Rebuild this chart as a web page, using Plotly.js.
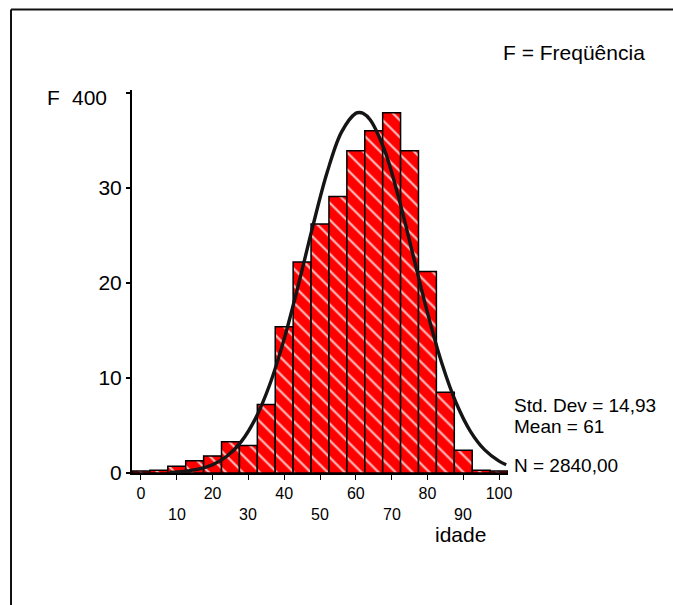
<!DOCTYPE html>
<html>
<head>
<meta charset="utf-8">
<script src="https://cdn.plot.ly/plotly-3.0.1.min.js"></script>
<style>
  html, body { margin: 0; padding: 0; background: #fff; overflow: hidden; }
  #chart { width: 673px; height: 605px; overflow: hidden; }
</style>
</head>
<body>
<div id="chart"></div>
<script>
// Histogram of "idade" (age), bin width 5
const binCenters = [0, 5, 10, 15, 20, 25, 30, 35, 40, 45, 50, 55, 60, 65, 70, 75, 80, 85, 90, 95, 100];
const counts = [2, 3, 7, 13, 18, 33, 29, 72, 154, 222, 262, 291, 339, 360, 379, 339, 212, 85, 24, 3, 2];

// Fitted normal curve
const curveX = [8, 12, 16, 20, 24, 28, 32, 36, 40, 44, 48, 52, 56, 60, 61, 62, 64, 68, 72, 76, 80, 84, 88, 92, 96, 100, 102];
const curveY = [0.7, 1.7, 4.0, 8.7, 17.6, 33.0, 57.5, 93.4, 141.1, 198.4, 259.7, 316.4, 358.7, 378.5, 379.4, 378.5, 371.8, 339.9, 289.2, 229.1, 168.8, 115.8, 73.9, 43.9, 24.3, 12.5, 8.7];

// Axis labels
const xTickVals = [0, 10, 20, 30, 40, 50, 60, 70, 80, 90, 100];
const xTickRow1 = ['0', '', '20', '', '40', '', '60', '', '80', '', '100'];
const xRow2Vals = [10, 30, 50, 70, 90];
const xRow2Text = ['10', '30', '50', '70', '90'];
const yTickVals = [0, 100, 200, 300, 400];
const yTickText = ['0', '10', '20', '30', ''];
const yTopLabel = '400';

const statsText = ['Std. Dev = 14,93', 'Mean = 61', 'N = 2840,00'];
const titleText = 'F = Freqüência';
const xTitle = 'idade';
const yTitle = 'F';

const FONT = 'Liberation Sans, Arial, sans-serif';

const W = 673, H = 605;
const M = {l: 132, r: 165, t: 90, b: 132};
const PW = W - M.l - M.r, PH = H - M.t - M.b;
const px = v => (v - M.l) / PW;          // pixel x -> paper
const py = v => (H - M.b - v) / PH;      // pixel y -> paper

const traces = [
  {
    type: 'bar',
    x: binCenters,
    y: counts,
    width: 5,
    marker: {
      color: '#ff0000',
      line: {color: '#000', width: 1.5},
      pattern: {shape: '\\', size: 12, solidity: 0.18, fgcolor: '#ffffff', fgopacity: 0.75, bgcolor: '#ff0000'}
    },
    hoverinfo: 'x+y'
  },
  {
    type: 'scatter',
    mode: 'lines',
    x: curveX,
    y: curveY,
    line: {color: '#151515', width: 3.4, shape: 'spline'},
    hoverinfo: 'skip'
  }
];

const annotations = [];
xRow2Vals.forEach((v, i) => {
  annotations.push({x: v, xref: 'x', y: py(514.5), yref: 'paper', text: xRow2Text[i],
    showarrow: false, xanchor: 'center', yanchor: 'middle', font: {family: FONT, size: 16, color: '#000'}});
});
annotations.push({x: px(460), xref: 'paper', y: py(534), yref: 'paper', text: xTitle,
  showarrow: false, xanchor: 'center', yanchor: 'middle', font: {family: FONT, size: 21, color: '#000'}});
annotations.push({x: px(109), xref: 'paper', y: 400, yref: 'y', yshift: -5, text: yTopLabel,
  showarrow: false, xanchor: 'right', yanchor: 'middle', font: {family: FONT, size: 21, color: '#000'}});
annotations.push({x: px(45), xref: 'paper', y: 400, yref: 'y', yshift: -5, text: yTitle,
  showarrow: false, xanchor: 'left', yanchor: 'middle', font: {family: FONT, size: 21, color: '#000'}});
const statsY = [405, 426, 465];
statsText.forEach((t, i) => {
  annotations.push({x: px(512), xref: 'paper', y: py(statsY[i]), yref: 'paper', text: t,
    showarrow: false, xanchor: 'left', yanchor: 'middle', font: {family: FONT, size: 19, color: '#000'}});
});

const layout = {
  width: W, height: H,
  margin: M,
  paper_bgcolor: '#fff', plot_bgcolor: '#fff',
  showlegend: false,
  bargap: 0,
  title: {text: titleText, xref: 'container', yref: 'container', x: 503 / W, xanchor: 'left',
    y: 1 - 53 / H, yanchor: 'middle', font: {family: FONT, size: 21, color: '#000'}},
  xaxis: {
    range: [-2.5, 102.5], showgrid: false, zeroline: false,
    showline: true, linecolor: '#000', linewidth: 2,
    tickmode: 'array', tickvals: xTickVals, ticktext: xTickRow1,
    ticks: 'outside', ticklen: 5, tickwidth: 1, tickcolor: '#000',
    tickfont: {family: FONT, size: 16, color: '#000'}
  },
  yaxis: {
    range: [0, 403], showgrid: false, zeroline: false,
    showline: true, linecolor: '#000', linewidth: 2,
    tickmode: 'array', tickvals: yTickVals, ticktext: yTickText,
    ticks: 'outside', ticklen: 4, tickwidth: 1.5, tickcolor: '#000',
    tickfont: {family: FONT, size: 21, color: '#000'}
  },
  annotations: annotations,
  shapes: [
    {type: 'line', xref: 'paper', yref: 'paper', x0: px(11), x1: px(11), y0: py(9.5), y1: py(620),
      line: {color: '#111', width: 2}, layer: 'above'},
    {type: 'line', xref: 'paper', yref: 'paper', x0: px(11), x1: px(690), y0: py(9.5), y1: py(9.5),
      line: {color: '#111', width: 2}, layer: 'above'}
  ]
};

Plotly.newPlot('chart', traces, layout, {displayModeBar: false, staticPlot: true});
</script>
</body>
</html>
